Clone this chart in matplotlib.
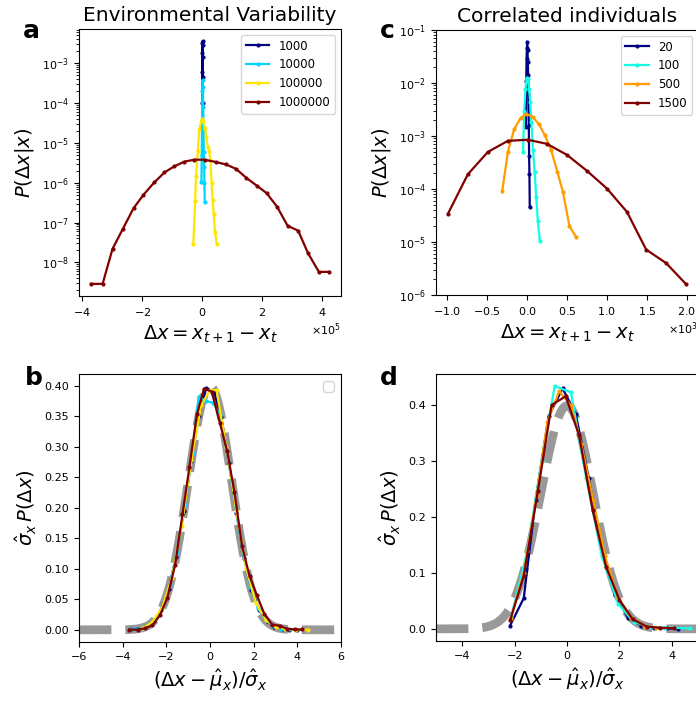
import matplotlib
matplotlib.use('Agg')
import matplotlib.pyplot as plt
import numpy as np

plt.rcParams['font.family'] = ['DejaVu Sans']
plt.rcParams['mathtext.fontset'] = 'dejavusans'
plt.rcParams['xtick.labelsize'] = 8
plt.rcParams['ytick.labelsize'] = 8

# ---------------- Panel a: Environmental variability ----------------
env_labels = ['1000', '10000', '100000', '1000000']
a_navy_x = [-600, -300, 0, 300, 600, 900, 1200, 1500, 1800]
a_navy_p = [1.0e-4, 6.0e-4, 1.8e-3, 3.3e-3, 3.6e-3, 2.8e-3, 1.4e-3, 4.5e-4, 1.0e-4]
a_cyan_x = [-3000, -2000, -1000, 0, 1000, 2000, 3000, 4000, 5000, 6000, 7000, 8000]
a_cyan_p = [1.05e-6, 5.0e-6, 3.5e-5, 2.0e-4, 3.8e-4, 2.5e-4, 8.0e-5, 2.0e-5, 6.0e-6, 2.5e-6, 1.0e-6, 3.3e-7]
a_yel_x = [-30000, -24000, -21000, -15000, -10000, -2000, 3000, 8000, 13000,
           18000, 22000, 27000, 31000, 34000, 38000, 42000, 48000]
a_yel_p = [2.95e-8, 3.4e-7, 1.45e-6, 6.3e-6, 2.2e-5, 3.9e-5, 3.6e-5, 2.4e-5, 1.4e-5,
           7.9e-6, 6.3e-6, 3.8e-6, 1.0e-6, 3.7e-7, 1.6e-7, 5.9e-8, 2.95e-8]
a_red_x = [-371000, -332000, -299000, -264000, -229000, -196000, -160000, -126000,
           -94000, -60000, -27000, 8000, 46000, 79000, 112000, 147000, 181000,
           214000, 249000, 284000, 319000, 352000, 388000, 422000]
a_red_p = [2.9e-9, 2.9e-9, 2.2e-8, 7.1e-8, 2.3e-7, 5.0e-7, 1.02e-6, 1.82e-6,
           2.57e-6, 3.39e-6, 3.80e-6, 3.80e-6, 3.31e-6, 2.88e-6, 2.24e-6, 1.32e-6,
           8.5e-7, 5.5e-7, 2.5e-7, 8.3e-8, 6.3e-8, 1.7e-8, 5.8e-9, 5.8e-9]

# ---------------- Panel b: rescaled environmental ----------------
b_navy_z = [-3.62, -3.28, -2.93, -2.58, -2.24, -1.89, -1.55, -1.20, -0.86, -0.51, -0.17,
            0.18, 0.52, 0.87, 1.21, 1.56, 1.90, 2.25, 2.59, 2.94, 3.28, 3.63, 3.97]
b_navy_y = [0.0006, 0.0018, 0.0055, 0.0143, 0.0325, 0.067, 0.120, 0.194, 0.276, 0.350, 0.396,
            0.390, 0.348, 0.273, 0.192, 0.118, 0.066, 0.032, 0.014, 0.0053, 0.0018, 0.0005, 0.0002]
b_cyan_z = [-3.60, -3.25, -2.90, -2.55, -2.20, -1.85, -1.50, -1.15, -0.80, -0.52, -0.17,
            0.15, 0.45, 0.80, 1.15, 1.50, 1.85, 2.20, 2.55, 2.90, 3.25, 3.60, 3.95]
b_cyan_y = [0.0006, 0.002, 0.006, 0.016, 0.035, 0.072, 0.128, 0.205, 0.290, 0.382, 0.374,
            0.372, 0.352, 0.290, 0.205, 0.128, 0.072, 0.035, 0.016, 0.006, 0.002, 0.0006, 0.0002]
b_yel_z = [-3.10, -2.65, -2.20, -1.75, -1.30, -0.85, -0.40, 0.00, 0.30, 0.75, 1.20,
           1.65, 2.10, 2.55, 3.00, 3.45, 3.90, 4.50]
b_yel_y = [0.003, 0.012, 0.036, 0.085, 0.170, 0.278, 0.368, 0.393, 0.392, 0.300, 0.196,
           0.102, 0.044, 0.016, 0.005, 0.0015, 0.0004, 0.0]
b_red_z = [-3.71, -3.32, -2.99, -2.64, -2.29, -1.96, -1.60, -1.26, -0.94, -0.60, -0.27, 0.08,
           0.46, 0.79, 1.12, 1.47, 1.81, 2.14, 2.49, 2.84, 3.19, 3.52, 3.88, 4.22]
b_red_y = [0.0003, 0.0003, 0.0023, 0.0074, 0.024, 0.052, 0.106, 0.189, 0.267, 0.353, 0.395, 0.390,
           0.338, 0.292, 0.225, 0.137, 0.088, 0.057, 0.026, 0.0086, 0.0066, 0.0018, 0.0006, 0.0006]

# ---------------- Panel c: correlated individuals ----------------
corr_labels = ['20', '100', '500', '1500']
c_navy_x = [-14, -10, -6, -2, 2, 6, 10, 14, 18, 22, 26, 30, 34]
c_navy_p = [1.5e-3, 1.1e-2, 2.8e-2, 4.5e-2, 6.0e-2, 4.2e-2, 2.5e-2, 1.4e-2, 6.3e-3,
            1.6e-3, 4.2e-4, 1.9e-4, 4.6e-5]
c_cyan_x = [-50, -35, -20, -5, 10, 25, 40, 55, 75, 95, 115, 135, 160]
c_cyan_p = [5.0e-4, 3.0e-3, 7.6e-3, 1.26e-2, 1.2e-2, 7.6e-3, 4.4e-3, 1.8e-3, 5.4e-4,
            2.1e-4, 7.1e-5, 2.5e-5, 1.05e-5]
c_or_x = [-310, -240, -160, -80, -10, 70, 150, 220, 300, 380, 450, 530, 610]
c_or_p = [9.1e-5, 5.0e-4, 1.35e-3, 2.2e-3, 2.6e-3, 2.3e-3, 1.66e-3, 1.05e-3, 5.5e-4,
          2.1e-4, 8.7e-5, 2.0e-5, 1.26e-5]
c_red_x = [-990, -740, -490, -240, 10, 250, 500, 750, 1000, 1250, 1490, 1740, 1990]
c_red_p = [3.4e-5, 1.9e-4, 5.0e-4, 8.1e-4, 8.5e-4, 7.1e-4, 4.4e-4, 2.2e-4, 1.02e-4,
           3.7e-5, 7.2e-6, 4.0e-6, 1.6e-6]

# ---------------- Panel d: rescaled correlated ----------------
d_navy_z = [-2.17, -1.65, -1.20, -0.70, -0.17, 0.33, 0.83, 1.33, 1.83, 2.33, 2.83, 3.33, 3.83, 4.25]
d_navy_y = [0.006, 0.055, 0.230, 0.380, 0.430, 0.385, 0.270, 0.140, 0.060, 0.020, 0.006, 0.002, 0.001, 0.0005]
d_cyan_z = [-2.13, -1.51, -0.97, -0.47, 0.15, 0.73, 1.33, 1.95, 2.55, 3.15, 3.75, 4.70]
d_cyan_y = [0.022, 0.140, 0.300, 0.434, 0.423, 0.270, 0.130, 0.045, 0.012, 0.004, 0.002, 0.001]
d_or_z = [-2.15, -1.65, -1.15, -0.75, -0.30, 0.15, 0.55, 1.00, 1.45, 1.95, 2.45, 2.95, 3.40]
d_or_y = [0.018, 0.100, 0.240, 0.370, 0.425, 0.400, 0.330, 0.230, 0.130, 0.055, 0.020, 0.006, 0.002]
d_red_z = [-2.17, -1.65, -1.11, -0.59, -0.05, 0.46, 0.98, 1.49, 2.00, 2.51, 3.05, 3.56, 4.07]
d_red_y = [0.015, 0.095, 0.247, 0.400, 0.416, 0.346, 0.212, 0.111, 0.052, 0.017, 0.004, 0.002, 0.001]

jet = plt.get_cmap('jet')
env_colors = [jet(v) for v in [0.0, 1/3, 2/3, 1.0]]
corr_colors = [jet(v) for v in [0.0, 0.372, 0.745, 1.0]]

fig = plt.figure(figsize=(6.96, 7.02), dpi=100)
W, H = 696.0, 702.0


def ax_at(l, t, r, b):
    return fig.add_axes([l / W, 1 - b / H, (r - l) / W, (b - t) / H])


axa = ax_at(79, 29, 341, 296)
axc = ax_at(436, 30, 698, 295)
axb = ax_at(79, 374, 341, 642)
axd = ax_at(436, 374, 698, 641)

sty = dict(marker='.', ms=4, lw=1.6)

for (x, p), col, lab in zip([(a_navy_x, a_navy_p), (a_cyan_x, a_cyan_p),
                             (a_yel_x, a_yel_p), (a_red_x, a_red_p)], env_colors, env_labels):
    axa.plot(x, p, color=col, label=lab, **sty)
axa.set_yscale('log')
axa.ticklabel_format(axis='x', style='sci', scilimits=(0, 0), useMathText=True)
axa.legend(loc='upper right', fontsize=8.4)
axa.set_title('Environmental Variability', fontsize=14.5)
axa.set_xlabel(r'$\Delta x = x_{t+1} - x_t$', fontsize=14)
axa.set_ylabel(r'$P(\Delta x|x)$', fontsize=14)

for (x, p), col, lab in zip([(c_navy_x, c_navy_p), (c_cyan_x, c_cyan_p),
                             (c_or_x, c_or_p), (c_red_x, c_red_p)], corr_colors, corr_labels):
    axc.plot(x, p, color=col, label=lab, **sty)
axc.set_yscale('log')
axc.set_ylim(1e-6, 1e-1)
axc.ticklabel_format(axis='x', style='sci', scilimits=(0, 0), useMathText=True)
axc.legend(loc='upper right', fontsize=8.4)
axc.set_title('Correlated individuals', fontsize=14.5)
axc.set_xlabel(r'$\Delta x = x_{t+1} - x_t$', fontsize=14)
axc.set_ylabel(r'$P(\Delta x|x)$', fontsize=14)

zb = np.linspace(-6, 6, 400)
axb.plot(zb, np.exp(-zb ** 2 / 2) / np.sqrt(2 * np.pi), '--', color='gray', lw=6.3, alpha=0.8, zorder=1)
for (z, y), col in zip([(b_navy_z, b_navy_y), (b_cyan_z, b_cyan_y),
                        (b_yel_z, b_yel_y), (b_red_z, b_red_y)], env_colors):
    axb.plot(z, y, color=col, zorder=2, **sty)
axb.set_xlim(-6, 6)
axb.legend(handles=[], loc='upper right')
axb.set_xlabel(r'$(\Delta x - \hat{\mu}_x)/\hat{\sigma}_x$', fontsize=14)
axb.set_ylabel(r'$\hat{\sigma}_x\, P(\Delta x)$', fontsize=14)

zd = np.linspace(-5, 5.5, 400)
axd.plot(zd, np.exp(-zd ** 2 / 2) / np.sqrt(2 * np.pi), '--', color='gray', lw=6.3, alpha=0.8, zorder=1)
for (z, y), col in zip([(d_navy_z, d_navy_y), (d_cyan_z, d_cyan_y),
                        (d_or_z, d_or_y), (d_red_z, d_red_y)], corr_colors):
    axd.plot(z, y, color=col, zorder=2, **sty)
axd.set_xlim(-5, 5)
axd.set_xlabel(r'$(\Delta x - \hat{\mu}_x)/\hat{\sigma}_x$', fontsize=14)
axd.set_ylabel(r'$\hat{\sigma}_x\, P(\Delta x)$', fontsize=14)

for letter, x, y in [('a', 23, 38), ('c', 380, 38), ('b', 25, 385), ('d', 380, 385)]:
    fig.text(x / W, 1 - y / H, letter, fontsize=18, fontweight='bold', va='baseline')

fig.savefig('out.png', dpi=100)
